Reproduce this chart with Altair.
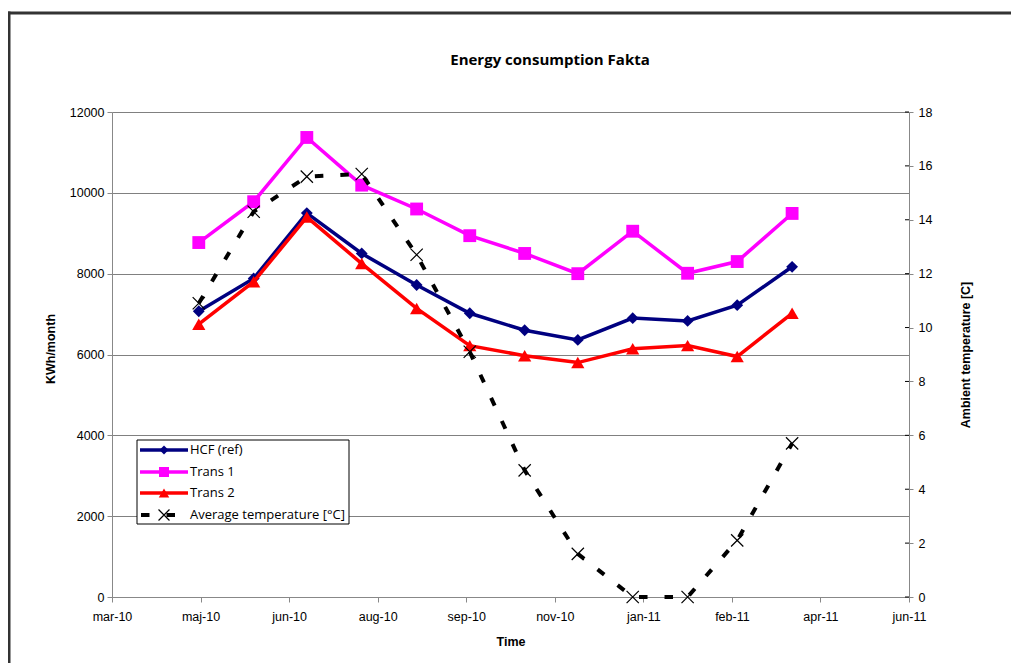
import altair as alt
import pandas as pd

# ---------------- data ----------------
dates = ["2010-05-01", "2010-06-01", "2010-07-01", "2010-08-01", "2010-09-01", "2010-10-01",
         "2010-11-01", "2010-12-01", "2011-01-01", "2011-02-01", "2011-03-01", "2011-04-01"]
hcf = [7070, 7880, 9500, 8500, 7720, 7020, 6600, 6360, 6900, 6830, 7220, 8170]
trans1 = [8770, 9780, 11370, 10190, 9600, 8940, 8500, 8000, 9050, 8010, 8300, 9490]
trans2 = [6750, 7800, 9400, 8250, 7140, 6220, 5970, 5800, 6140, 6220, 5950, 7020]
temp = [10.9, 14.3, 15.6, 15.7, 12.7, 9.1, 4.7, 1.6, 0.0, 0.0, 2.1, 5.7]

x_ticks = ["2010-03-13", "2010-05-02", "2010-06-21", "2010-08-10", "2010-09-29",
           "2010-11-18", "2011-01-07", "2011-02-26", "2011-04-17", "2011-06-06"]
left_ticks = [0, 2000, 4000, 6000, 8000, 10000, 12000]
right_ticks = [0, 2, 4, 6, 8, 10, 12, 14, 16, 18]

series_names = ["HCF (ref)", "Trans 1", "Trans 2", "Average temperature [\u00b0C]"]
chart_title = "Energy consumption Fakta"

FONT = "Open Sans"
W, H = 797, 485


def dt(s):
    y, m, d = (int(v) for v in s.split("-"))
    return alt.DateTime(year=y, month=m, date=d, utc=True)


df = pd.DataFrame({"date": dates, "hcf": hcf, "trans1": trans1, "trans2": trans2, "temp": temp})
dummy = pd.DataFrame({"a": [0]})
rt = pd.DataFrame({"t": right_ticks})

month_expr = ("['jan','feb','mar','apr','maj','jun','jul','aug','sep','okt','nov','dec']"
              "[utcmonth(datum.value)] + '-' + utcFormat(datum.value, '%y')")

X = alt.X("date:T",
          scale=alt.Scale(type="utc", domain=[dt(x_ticks[0]), dt(x_ticks[-1])]),
          axis=alt.Axis(values=[dt(s) for s in x_ticks], labelExpr=month_expr, title="Time",
                        grid=False, tickSize=5, labelPadding=8, labelFontSize=12.5,
                        titleFontSize=12.5, titleFontWeight="bold", titleY=44,
                        titleBaseline="middle", labelFlush=False, labelOverlap=False))

left_axis = alt.Axis(values=left_ticks, format="d", title="KWh/month", grid=True,
                     gridColor="#808080", tickSize=5, labelPadding=3, labelFontSize=12.5,
                     titleFontSize=12.5, titleFontWeight="bold", titleX=-62, titleY=H / 2 - 6,
                     titleAngle=270, titleBaseline="middle", titleAlign="center")
left_scale = alt.Scale(domain=[0, 12000], nice=False, zero=True)

right_axis = alt.Axis(values=right_ticks, title="Ambient temperature [C]", grid=False,
                      orient="right", tickSize=4, labelPadding=5, labelFontSize=12.5,
                      titleFontSize=12.5, titleFontWeight="bold", titleX=56, titleY=H / 2,
                      titleAngle=270, titleBaseline="middle", titleAlign="center")
right_scale = alt.Scale(domain=[0, 18], nice=False, zero=True)

base = alt.Chart(df)


def left_series(col, color, shape, size):
    line = base.mark_line(color=color, strokeWidth=3.5).encode(
        x=X, y=alt.Y(f"{col}:Q", scale=left_scale, axis=left_axis))
    pts = base.mark_point(shape=shape, filled=True, size=size, color=color, opacity=1).encode(
        x=X, y=alt.Y(f"{col}:Q", scale=left_scale, axis=left_axis))
    return [line, pts]


XPATH = "M-1,-1L1,1M-1,1L1,-1"

left = alt.layer(
    *left_series("hcf", "#000080", "diamond", 140),
    *left_series("trans1", "#FF00FF", "square", 165),
    *left_series("trans2", "#FF0000", "triangle-up", 175),
)

temp_line = base.mark_line(color="black", strokeWidth=4, strokeDash=[8.5, 17], strokeCap="butt").encode(
    x=X, y=alt.Y("temp:Q", scale=right_scale, axis=right_axis))
temp_pts = base.mark_point(shape=XPATH, filled=False, size=150, color="black",
                           strokeWidth=1.2, opacity=1).encode(
    x=X, y=alt.Y("temp:Q", scale=right_scale, axis=right_axis))
inner_ticks = alt.Chart(rt).mark_rule(color="black", strokeWidth=1).encode(
    y=alt.Y("t:Q", scale=right_scale, axis=right_axis),
    x=alt.value(W - 4), x2=alt.value(W))

right = alt.layer(inner_ticks, temp_line, temp_pts)

# ---------------- legend (drawn manually, Excel style) ----------------
leg = alt.Chart(dummy)
legend_layers = [
    leg.mark_rect(fill="white", stroke="black", strokeWidth=1).encode(
        x=alt.value(25), x2=alt.value(237), y=alt.value(328), y2=alt.value(412))
]
leg_y = [338, 360, 381, 403]
leg_specs = [("#000080", "diamond", 80, None), ("#FF00FF", "square", 100, None),
             ("#FF0000", "triangle-up", 110, None), ("black", XPATH, 120, [8.5, 17])]
for name, yy, (color, shape, size, dash) in zip(series_names, leg_y, leg_specs):
    if dash is None:
        legend_layers.append(leg.mark_rule(color=color, strokeWidth=3.5).encode(
            x=alt.value(28), x2=alt.value(76), y=alt.value(yy)))
        legend_layers.append(leg.mark_point(shape=shape, filled=True, size=size, color=color,
                                            opacity=1).encode(x=alt.value(52), y=alt.value(yy)))
    else:
        legend_layers.append(leg.mark_rule(color=color, strokeWidth=4, strokeDash=dash,
                                           strokeCap="butt").encode(
            x=alt.value(29), x2=alt.value(76), y=alt.value(yy)))
        legend_layers.append(leg.mark_point(shape=shape, filled=False, size=size, color=color,
                                            strokeWidth=1.2, opacity=1).encode(
            x=alt.value(52), y=alt.value(yy)))
    legend_layers.append(leg.mark_text(align="left", baseline="middle", font=FONT,
                                       fontSize=13, color="black").encode(
        x=alt.value(78), y=alt.value(yy), text=alt.value(name)))

title_mark = leg.mark_text(align="center", baseline="middle", font=FONT, fontSize=15,
                           fontWeight="bold", color="black").encode(
    x=alt.value(438), y=alt.value(-52), text=alt.value(chart_title))

# chart-area frame: only the top and left edges fall inside the picture
border_top = leg.mark_rule(color="#333333", strokeWidth=3).encode(
    x=alt.value(-104.5), x2=alt.value(W + 110), y=alt.value(-99))
border_left = leg.mark_rule(color="#333333", strokeWidth=3).encode(
    x=alt.value(-103), y=alt.value(-100.5), y2=alt.value(H + 80))

chart = alt.layer(left, right, *legend_layers, title_mark, border_top, border_left).resolve_scale(
    y="independent").properties(
    width=W, height=H,
    autosize=alt.AutoSizeParams(type="none"),
    padding={"left": 104, "top": 104, "right": 102, "bottom": 66},
).configure_view(stroke=None).configure_axis(
    labelFont=FONT, titleFont=FONT, domainColor="black", tickColor="black",
    labelColor="black", titleColor="black", domainWidth=1, tickWidth=1
).configure(background="white")

chart.save("out.html", embed_options={"renderer": "svg", "actions": False})
